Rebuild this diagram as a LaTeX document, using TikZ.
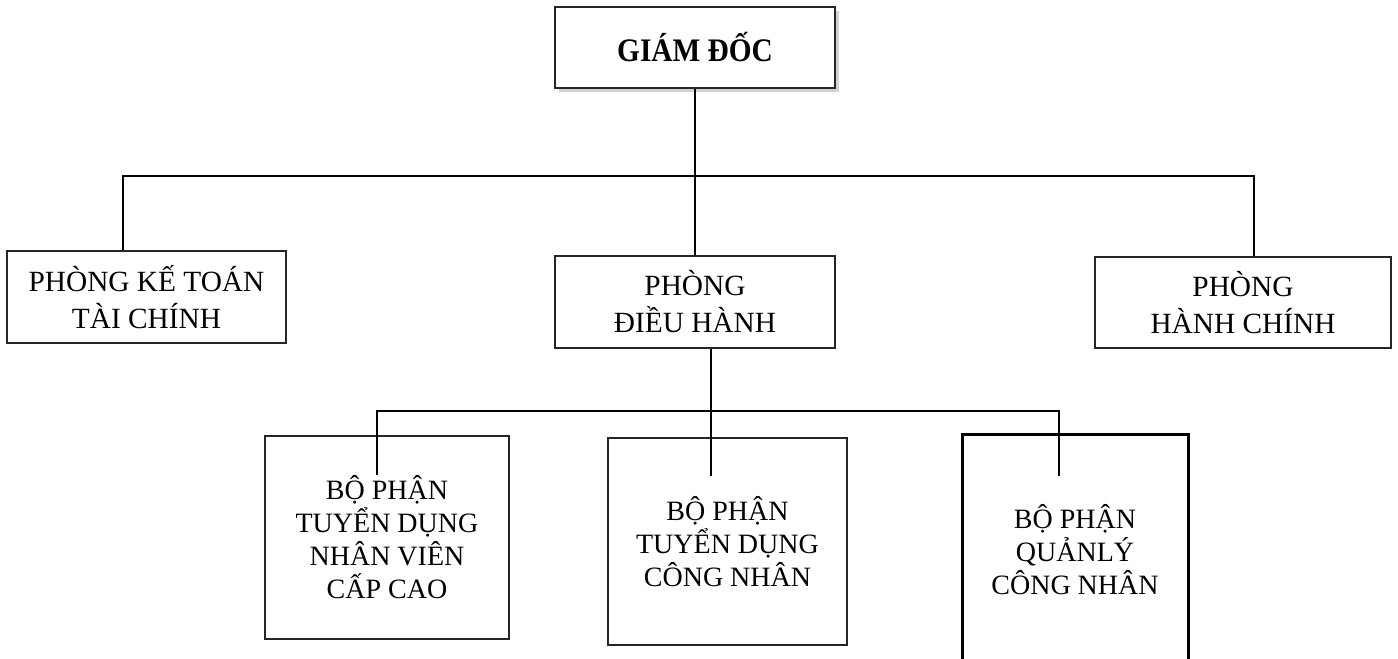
\documentclass[tikz,border=0pt]{standalone}
\usepackage{fontspec}
\setmainfont{Liberation Serif}
\usetikzlibrary{shadows}
\begin{document}
\begin{tikzpicture}[x=0.75pt,y=-0.75pt,
  box/.style={draw=black!85, line width=0.8pt, fill=white, inner sep=0pt, align=center},
  upper/.style={box, font=\fontsize{22}{27.75}\selectfont},
  lower/.style={box, font=\fontsize{21}{24.75}\selectfont},
  link/.style={draw=black, line width=0.8pt}]
\clip (0,0) rectangle (1398,659);
\node[box, font=\fontsize{22}{27}\selectfont\bfseries, minimum width=280*0.75pt, minimum height=81*0.75pt,
  drop shadow={shadow xshift=3pt, shadow yshift=-3pt, fill=black!35}] (gd) at (695,47.5) {\scalebox{1}[1.12]{GIÁM ĐỐC}};
\node[upper, minimum width=279*0.75pt, minimum height=92*0.75pt] (kt) at (146.5,297) {PHÒNG KẾ TOÁN\\TÀI CHÍNH};
\node[upper, minimum width=280*0.75pt, minimum height=92*0.75pt] (dh) at (695,302) {PHÒNG\\ĐIỀU HÀNH};
\node[upper, minimum width=296*0.75pt, minimum height=91*0.75pt] (hc) at (1243,302.5) {PHÒNG\\HÀNH CHÍNH};
\node[lower, minimum width=244*0.75pt, minimum height=203*0.75pt] (b1) at (387,537.5) {BỘ PHẬN\\TUYỂN DỤNG\\NHÂN VIÊN\\CẤP CAO};
\node[lower, minimum width=239*0.75pt, minimum height=207*0.75pt] (b2) at (727.5,541.5) {BỘ PHẬN\\TUYỂN DỤNG\\CÔNG NHÂN};
\node[lower, line width=2.25pt, draw=black, minimum width=226*0.75pt, minimum height=232*0.75pt] (b3) at (1075,550) {BỘ PHẬN\\QUẢNLÝ\\CÔNG NHÂN};
\coordinate (barL) at (123,176);
\coordinate (barR) at (1254,176);
\coordinate (bar2L) at (377,411);
\coordinate (bar2R) at (1059,411);
\coordinate (e1) at (377,475);
\coordinate (e2) at (711,476);
\coordinate (e3) at (1059,476);
\draw[link] (gd.south) -- (dh.north);
\draw[link] (kt.north -| barL) -- (barL) -- (barR) -- (hc.north -| barR);
\draw[link] ([xshift=12pt]dh.south) -- (e2);
\draw[link] (e1) -- (bar2L) -- (bar2R) -- (e3);
\end{tikzpicture}
\end{document}
